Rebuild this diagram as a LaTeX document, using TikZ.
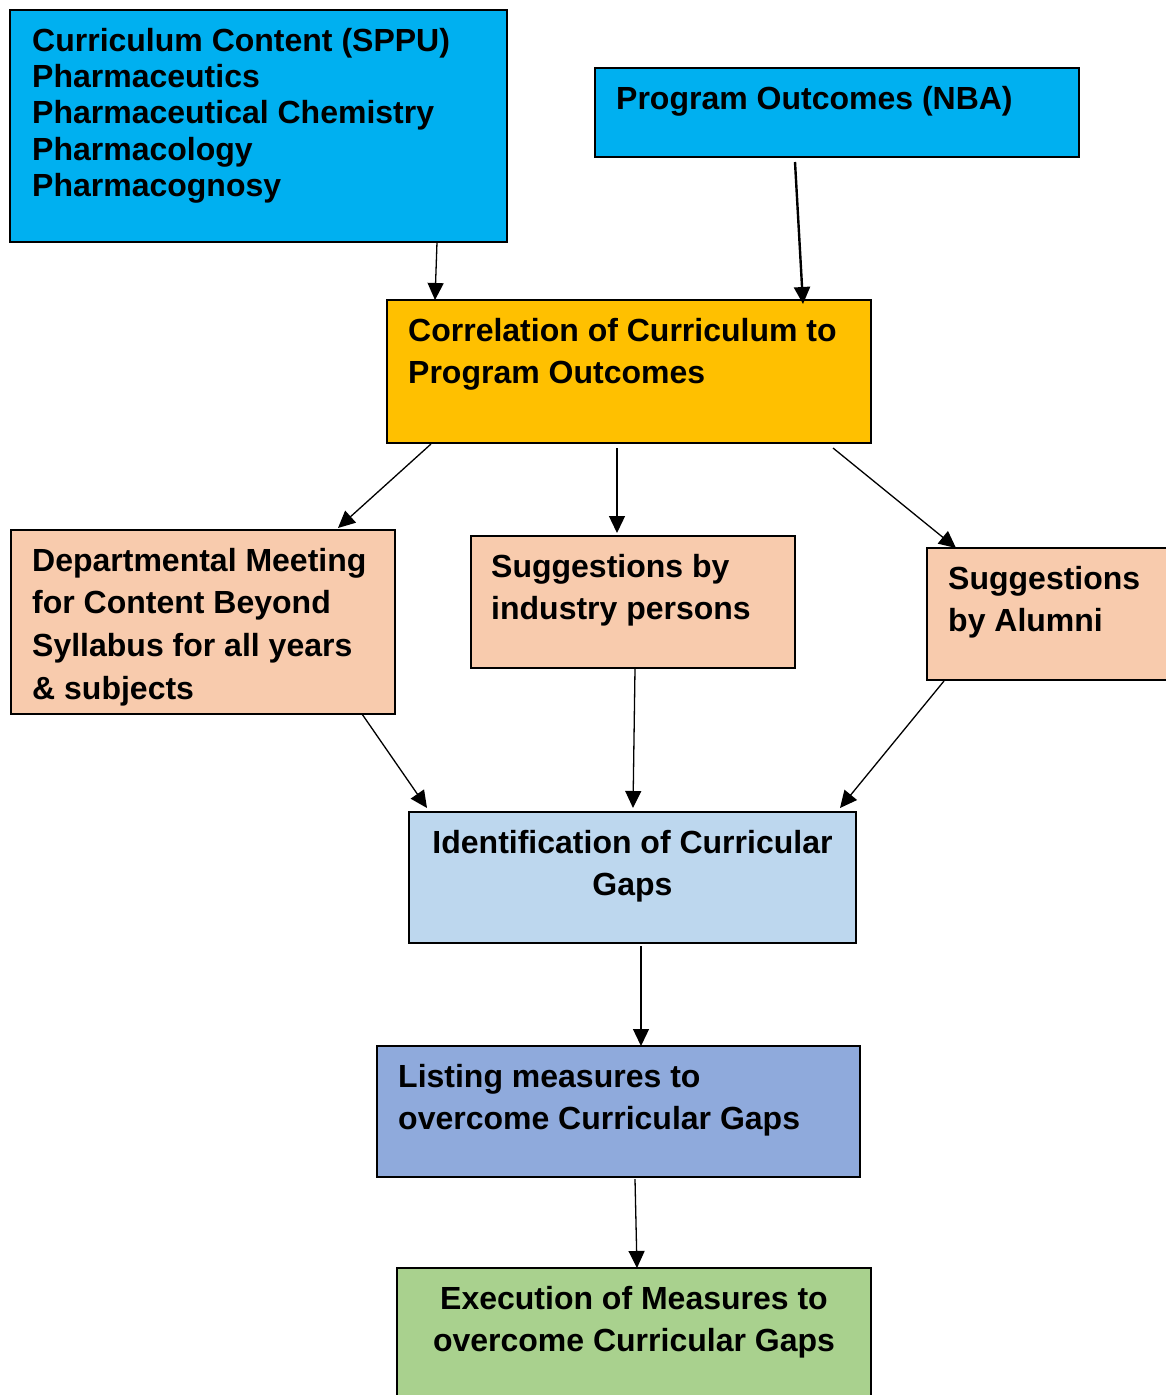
\documentclass[tikz,border=0pt]{standalone}
\usepackage{fontspec}
\setmainfont{Liberation Sans}
\usetikzlibrary{arrows.meta}
\definecolor{cblue}{HTML}{00B0F0}
\definecolor{corange}{HTML}{FFC000}
\definecolor{cpeach}{HTML}{F8CBAD}
\definecolor{clight}{HTML}{BDD7EE}
\definecolor{cmid}{HTML}{8FAADC}
\definecolor{cgreen}{HTML}{A9D18E}
\begin{document}
\begin{tikzpicture}[x=1pt,y=-1pt,
  boxnode/.style={draw=black, line width=2.5pt, anchor=north west, inner sep=0pt, outer sep=0pt},
  txt/.style={inner sep=0pt, align=left, anchor=base west, font=\fontsize{32}{42.7}\selectfont\bfseries},
  ctxt/.style={txt, align=center, anchor=base},
  arr/.style={-{Triangle[length=17pt,width=16pt]}, line width=1.3pt},
  thickarr/.style={arr, line width=2.4pt}
]
\fill[white] (0,0) rectangle (1165,1395);
\useasboundingbox (0,0) rectangle (1165,1395);

% boxes (text nodes anchored at the baseline of their last line)
\node[boxnode, fill=cblue, minimum width=497pt, minimum height=232pt] (cc) at (10,10) {};
\node[txt, font=\fontsize{32}{36.2}\selectfont\bfseries] (ccT) at (32,196.3) {Curriculum Content (SPPU)\\Pharmaceutics\\Pharmaceutical Chemistry\\Pharmacology\\Pharmacognosy};

\node[boxnode, fill=cblue, minimum width=484pt, minimum height=89pt] (po) at (595,68) {};
\node[txt] (poT) at (616,109) {Program Outcomes (NBA)};

\node[boxnode, fill=corange, minimum width=484pt, minimum height=143pt] (corr) at (387,300) {};
\node[txt] (corrT) at (408,383.7) {Correlation of Curriculum to\\Program Outcomes};

\node[boxnode, fill=cpeach, minimum width=384pt, minimum height=184pt] (dept) at (11,530) {};
\node[txt] (deptT) at (32,699.1) {Departmental Meeting\\for Content Beyond\\Syllabus for all years\\\& subjects};

\node[boxnode, fill=cpeach, minimum width=324pt, minimum height=132pt] (ind) at (471,536) {};
\node[txt] (indT) at (491,619.7) {Suggestions by\\industry persons};

\node[boxnode, fill=cpeach, minimum width=260pt, minimum height=132pt] (alum) at (927,548) {};
\node[txt] (alumT) at (948,631.7) {Suggestions\\by Alumni};

\node[boxnode, fill=clight, minimum width=447pt, minimum height=131pt] (ident) at (409,812) {};
\node[ctxt] (identT) at (632.5,895.7) {Identification of Curricular\\Gaps};

\node[boxnode, fill=cmid, minimum width=483pt, minimum height=131pt] (list) at (377,1046) {};
\node[txt] (listT) at (398,1129.7) {Listing measures to\\overcome Curricular Gaps};

\node[boxnode, fill=cgreen, minimum width=474pt, minimum height=150pt] (exec) at (397,1268) {};
\node[ctxt] (execT) at (634,1351.7) {Execution of Measures to\\overcome Curricular Gaps};

% connectors
\draw[arr] ([xshift=427pt]cc.south west) -- ([xshift=48pt]corr.north west);
\draw[thickarr] ([xshift=200pt,yshift=-5pt]po.south west) -- ([xshift=416pt,yshift=-4pt]corr.north west);
\draw[arr] ([xshift=44pt,yshift=-1pt]corr.south west) -- ([xshift=327pt,yshift=2pt]dept.north west);
\draw[arr] ([xshift=230pt,yshift=-5pt]corr.south west) -- ([xshift=146pt,yshift=3pt]ind.north west);
\draw[arr] ([xshift=446pt,yshift=-5pt]corr.south west) -- ([xshift=29pt]alum.north west);
\draw[arr] ([xshift=351pt]dept.south west) -- ([xshift=18pt,yshift=4pt]ident.north west);
\draw[arr] ([xshift=164pt,yshift=-1pt]ind.south west) -- ([xshift=224pt,yshift=4pt]ident.north west);
\draw[arr] ([xshift=17pt,yshift=-1pt]alum.south west) -- ([xshift=431pt,yshift=4pt]ident.north west);
\draw[arr] ([xshift=232pt,yshift=-3pt]ident.south west) -- ([xshift=264pt]list.north west);
\draw[arr] ([xshift=258pt,yshift=-2pt]list.south west) -- ([xshift=240pt]exec.north west);
\end{tikzpicture}
\end{document}
